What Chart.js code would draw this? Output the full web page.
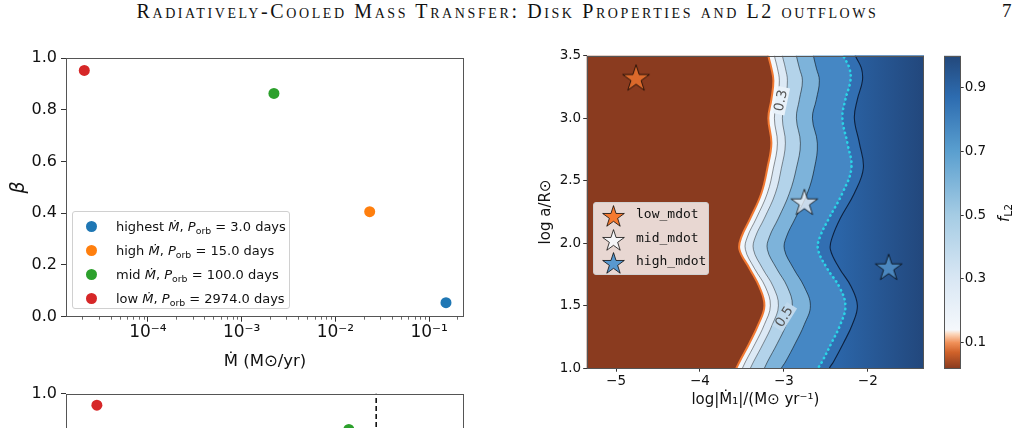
<!DOCTYPE html>
<html>
<head>
<meta charset="utf-8">
<script src="https://cdn.jsdelivr.net/npm/chart.js@4.4.1/dist/chart.umd.min.js"></script>
<style>
  html, body { margin: 0; padding: 0; background: #fff; width: 1023px; height: 428px; overflow: hidden; }
  body { position: relative; font-family: 'DejaVu Sans', sans-serif; color: #111; }
  canvas { position: absolute; }
  #header { position: absolute; left: 0; top: 0; width: 1015px; text-align: center;
    font-family: 'Liberation Serif', 'DejaVu Serif', serif; font-variant: small-caps; font-size: 20px; letter-spacing: 2.6px; }
  #pagenum { position: absolute; left: 1002px; top: 0; font-family: 'Liberation Serif', serif; font-size: 19px; }
  .legend { position: absolute; border: 1px solid #d0d0d0; border-radius: 3px; box-sizing: border-box; }
  .legend .row { position: absolute; left: 0; white-space: nowrap; }
  #legendL { left: 72px; top: 211px; width: 218px; height: 98px; background: rgba(255,255,255,0.85); font-size: 13px; }
  #legendL .dot { position: absolute; width: 11px; height: 11px; border-radius: 50%; left: 13px; top: -5.5px; }
  #legendL .txt { position: absolute; left: 43px; top: -8px; }
  #legendR { left: 593px; top: 202px; width: 116px; height: 73px; background: rgba(255,255,255,0.8);
    font-family: 'DejaVu Sans Mono', monospace; font-size: 13px; }
  #legendR img { position: absolute; left: 6px; top: -12px; }
  #legendR .txt { position: absolute; left: 42px; top: -8px; }
  sub { font-size: 0.72em; vertical-align: -0.3em; line-height: 0; }
  #cbarLabel { position: absolute; left: 986px; top: 202px; width: 40px; height: 22px; text-align: center;
    font-size: 15px; transform: rotate(-90deg); }
</style>
</head>
<body>
<div id="header">Radiatively-Cooled Mass Transfer: Disk Properties and L2 outflows</div>
<div id="pagenum">7</div>

<canvas id="betaChart" width="490" height="350" style="left:0;top:40px;width:490px;height:350px"></canvas>
<canvas id="lowerChart" width="490" height="300" style="left:0;top:380px;width:490px;height:300px"></canvas>
<canvas id="mapChart" width="430" height="380" style="left:510px;top:40px;width:430px;height:380px"></canvas>
<canvas id="cbarChart" width="88" height="380" style="left:935px;top:40px;width:88px;height:380px"></canvas>

<div id="legendL" class="legend"></div>
<div id="legendR" class="legend"></div>
<div id="cbarLabel"><i>f</i><sub>L2</sub></div>

<script>
// ---- left panel: beta vs mass transfer rate
const caseNames = ['highest', 'high', 'mid', 'low'];
const caseColors = ['#1f77b4', '#ff7f0e', '#2ca02c', '#d62728'];
const casePeriods = [3.0, 15.0, 100.0, 2974.0];
const caseMdot = [0.151, 0.0232, 0.00221, 0.0000210];
const caseBeta = [0.054, 0.406, 0.863, 0.952];
const mdotMin = 1.34e-5, mdotMax = 0.235;

// ---- lower panel (cut off by the page)
const lowerColors = ['#d62728', '#2ca02c'];
const lowerX = [0.0000286, 0.0139];
const lowerBeta = [0.955, 0.861];
const lowerCut = 0.0272;

// ---- right panel: f_L2 map
const mapXMin = -5.35, mapXMax = -1.33;
const mapYMin = 1.0, mapYMax = 3.5;
const mapXTicks = [-5, -4, -3, -2];
const contourY = [3.6, 3.5, 3.4, 3.3, 3.15, 3.0, 2.8, 2.6, 2.4, 2.2, 2.05, 1.95, 1.8, 1.65, 1.5, 1.35, 1.2, 1.05, 1.0, 0.9];
const edgeX   = [-3.208, -3.185, -3.149, -3.125, -3.149, -3.185, -3.149, -3.197, -3.268, -3.399, -3.506, -3.530, -3.411, -3.292, -3.232, -3.304, -3.411, -3.530, -3.566, -3.638];
const level3X = [-3.137, -3.113, -3.077, -3.054, -3.077, -3.113, -3.077, -3.125, -3.197, -3.328, -3.435, -3.459, -3.352, -3.220, -3.161, -3.232, -3.340, -3.459, -3.494, -3.566];
const level4X = [-3.042, -3.018, -2.982, -2.958, -2.982, -3.018, -2.982, -3.030, -3.101, -3.232, -3.340, -3.363, -3.256, -3.125, -3.065, -3.137, -3.244, -3.363, -3.399, -3.471];
const level5X = [-2.875, -2.851, -2.815, -2.779, -2.815, -2.851, -2.803, -2.851, -2.934, -3.065, -3.173, -3.197, -3.089, -2.958, -2.899, -2.970, -3.077, -3.197, -3.232, -3.304];
const level6X = [-2.672, -2.648, -2.613, -2.577, -2.613, -2.660, -2.601, -2.636, -2.720, -2.863, -2.970, -2.994, -2.887, -2.756, -2.684, -2.756, -2.863, -2.982, -3.030, -3.101];
const dottedX = [-2.339, -2.291, -2.219, -2.207, -2.267, -2.303, -2.243, -2.196, -2.303, -2.462, -2.570, -2.593, -2.486, -2.339, -2.267, -2.327, -2.434, -2.546, -2.593, -2.672];
const darkX   = [-2.196, -2.148, -2.076, -2.064, -2.124, -2.160, -2.100, -2.053, -2.160, -2.327, -2.422, -2.446, -2.339, -2.196, -2.124, -2.184, -2.291, -2.410, -2.458, -2.529];

const starLabels = ['low_mdot', 'mid_mdot', 'high_mdot'];
const starX = [-4.762, -2.756, -1.751];
const starY = [3.327, 2.332, 1.812];
const starFills = ['rgba(246,122,48,0.75)', 'rgba(246,246,248,0.75)', 'rgba(88,152,207,0.75)'];

const contourLabels = [
  { text: '0.3', x: -3.03, y: 3.14, angle: -78, bg: '#e8f1f9' },
  { text: '0.5', x: -2.99, y: 1.41, angle: -58, bg: '#c0d9ed' }
];

// colour bar
const cbarMin = 0.02, cbarMax = 1.0;
const cbarTicks = [0.1, 0.3, 0.5, 0.7, 0.9];
const cbarStops = [0.02, 0.07, 0.10, 0.128, 0.14, 0.3, 0.5, 0.7, 0.87, 1.0];
const cbarColors = ['#8a3b1f', '#d0622a', '#f09058', '#fcd9bf', '#f5f8fc', '#d9e7f4', '#a5cce4', '#5a9fcf', '#2d6cb0', '#23487b'];

Chart.defaults.font.family = "'DejaVu Sans', sans-serif";
Chart.defaults.color = '#222';

const framePlugin = {
  id: 'frame',
  afterDraw(chart) {
    const a = chart.chartArea, c = chart.ctx;
    c.save();
    c.strokeStyle = '#555';
    c.lineWidth = 1;
    c.strokeRect(Math.round(a.left) + 0.5, Math.round(a.top) + 0.5, Math.round(a.right - a.left) - 1, Math.round(a.bottom - a.top) - 1);
    c.restore();
  }
};

const minorTickPlugin = {
  id: 'minorTicks',
  afterDraw(chart) {
    const s = chart.scales.x, c = chart.ctx, b = chart.chartArea.bottom;
    c.save();
    c.strokeStyle = '#444';
    c.lineWidth = 0.8;
    s.ticks.forEach(t => {
      if (t.major) return;
      const px = Math.round(s.getPixelForValue(t.value)) + 0.5;
      c.beginPath(); c.moveTo(px, b); c.lineTo(px, b + 3); c.stroke();
    });
    c.restore();
  }
};

const supDigits = { '-': '⁻', '0': '⁰', '1': '¹', '2': '²', '3': '³', '4': '⁴', '5': '⁵', '6': '⁶', '7': '⁷', '8': '⁸', '9': '⁹' };
function powLabel(v) {
  const e = String(Math.round(Math.log10(v)));
  return '10' + e.split('').map(ch => supDigits[ch]).join('');
}
function logTicks(scale) {
  const out = [];
  for (let e = -6; e <= 0; e++) {
    for (let m = 1; m < 10; m++) {
      const v = Number(m + 'e' + e);
      if (v >= scale.min && v <= scale.max) out.push({ value: v, major: m === 1 });
    }
  }
  scale.ticks = out;
}

function betaScales(showXTitle, xHeight) {
  return {
    x: {
      type: 'logarithmic', min: mdotMin, max: mdotMax,
      afterBuildTicks: logTicks,
      afterFit: s => { s.height = xHeight; },
      border: { display: false },
      grid: { drawOnChartArea: false, tickLength: 5, tickColor: c => (c.tick && c.tick.major) ? '#333' : 'rgba(0,0,0,0)' },
      ticks: { autoSkip: false, maxRotation: 0, padding: 1, font: { size: 17 }, color: '#111',
        callback: (v, i, t) => t[i].major ? powLabel(v) : '' },
      title: { display: showXTitle, text: 'Ṁ (M⊙/yr)', font: { size: 16.5 }, color: '#111', padding: { bottom: 18 } }
    },
    y: {
      min: 0, max: 1,
      afterFit: s => { s.width = 66; },
      border: { display: false },
      grid: { drawOnChartArea: false, tickLength: 5, tickColor: '#333' },
      ticks: { stepSize: 0.2, padding: 4, font: { size: 16 }, color: '#111', callback: v => v.toFixed(1) },
      title: { display: true, text: 'β', font: { size: 19, style: 'italic' }, color: '#111', padding: { top: 8 } }
    }
  };
}

// left chart
new Chart(document.getElementById('betaChart'), {
  type: 'scatter',
  data: {
    datasets: caseNames.map((n, i) => ({
      label: n,
      data: [{ x: caseMdot[i], y: caseBeta[i] }],
      backgroundColor: caseColors[i],
      borderWidth: 0,
      pointRadius: 5.5
    }))
  },
  options: {
    responsive: false, animation: false,
    layout: { padding: { left: 0, top: 18, right: 26, bottom: 0 } },
    plugins: { legend: { display: false }, tooltip: { enabled: false } },
    scales: betaScales(true, 73.3)
  },
  plugins: [framePlugin, minorTickPlugin]
});

// lower chart (only its top is on the page)
const lowerSets = lowerX.map((x, i) => ({
  data: [{ x: x, y: lowerBeta[i] }],
  backgroundColor: lowerColors[i],
  borderWidth: 0,
  pointRadius: 5.5
}));
lowerSets.push({
  data: [{ x: lowerCut, y: 0 }, { x: lowerCut, y: 1 }],
  showLine: true, pointRadius: 0, borderColor: '#000', borderWidth: 1.5, borderDash: [5, 3]
});
new Chart(document.getElementById('lowerChart'), {
  type: 'scatter',
  data: { datasets: lowerSets },
  options: {
    responsive: false, animation: false,
    layout: { padding: { left: 0, top: 12.7, right: 26, bottom: 0 } },
    plugins: { legend: { display: false }, tooltip: { enabled: false } },
    scales: betaScales(false, 29)
  },
  plugins: [framePlugin, minorTickPlugin]
});

// legend for left chart
const legL = document.getElementById('legendL');
caseNames.forEach((n, i) => {
  const row = document.createElement('div');
  row.className = 'row';
  row.style.top = (14.7 + 24 * i) + 'px';
  row.innerHTML = `<span class="dot" style="background:${caseColors[i]}"></span>` +
    `<span class="txt">${n} <i>Ṁ</i>, <i>P</i><sub>orb</sub> = ${casePeriods[i].toFixed(1)} days</span>`;
  legL.appendChild(row);
});

// star markers
function makeStar(fill, R) {
  const s = Math.ceil(R * 2 + 4);
  const c = document.createElement('canvas');
  c.width = s; c.height = s;
  const g = c.getContext('2d');
  const r = R * 0.382;
  g.beginPath();
  for (let i = 0; i < 10; i++) {
    const rad = i % 2 ? r : R;
    const a = -Math.PI / 2 + i * Math.PI / 5;
    const px = s / 2 + rad * Math.cos(a), py = s / 2 + 1.5 + rad * Math.sin(a);
    if (i) g.lineTo(px, py); else g.moveTo(px, py);
  }
  g.closePath();
  g.fillStyle = fill; g.fill();
  g.strokeStyle = 'rgba(0,0,0,0.75)'; g.lineWidth = 1; g.stroke();
  return c;
}
const starImages = starFills.map(f => makeStar(f, 14));

const legR = document.getElementById('legendR');
starLabels.forEach((n, i) => {
  const row = document.createElement('div');
  row.className = 'row';
  row.style.top = (11 + 23.7 * i) + 'px';
  const img = new Image();
  img.src = makeStar(starFills[i].replace('0.75)', '1)'), 11.4).toDataURL();
  row.appendChild(img);
  const t = document.createElement('span');
  t.className = 'txt';
  t.textContent = n;
  row.appendChild(t);
  legR.appendChild(row);
});

// right chart
function curve(xs) { return contourY.map((y, i) => ({ x: xs[i], y: y })); }
function region(xs, side) {
  const pts = curve(xs);
  pts.push({ x: side, y: contourY[contourY.length - 1] }, { x: side, y: contourY[0] });
  return pts;
}
const right = mapXMax + 0.6, left = mapXMin - 0.6;

function rightGradient(ctx) {
  const chart = ctx.chart;
  if (!chart.chartArea) return '#27589a';
  const xs = chart.scales.x;
  const g = chart.ctx.createLinearGradient(xs.getPixelForValue(-2.35), 0, xs.getPixelForValue(mapXMax), 0);
  g.addColorStop(0, '#2b65a8');
  g.addColorStop(1, '#22477c');
  return g;
}

const bands = [
  { xs: edgeX, side: left, color: '#8a3b1f' },
  { xs: edgeX, side: right, color: '#f2f7fc' },
  { xs: level3X, side: right, color: '#dce9f5' },
  { xs: level4X, side: right, color: '#b3d3ea' },
  { xs: level5X, side: right, color: '#7db3da' },
  { xs: level6X, side: right, color: '#4587c4' },
  { xs: dottedX, side: right, color: '#326fb2' },
  { xs: darkX, side: right, color: rightGradient }
];
const mapSets = bands.map((b, i) => ({
  data: region(b.xs, b.side),
  fill: 'shape',
  backgroundColor: b.color,
  borderWidth: 0,
  pointRadius: 0,
  tension: 0.4,
  order: 20 - i
}));

const lineStyles = [
  { xs: level3X, color: 'rgba(0,0,0,0.42)', width: 1 },
  { xs: level4X, color: 'rgba(0,0,0,0.42)', width: 1 },
  { xs: level5X, color: 'rgba(0,0,0,0.5)', width: 1 },
  { xs: level6X, color: 'rgba(0,0,0,0.55)', width: 1 },
  { xs: darkX, color: 'rgba(5,15,35,0.8)', width: 1.1 }
];
lineStyles.forEach(l => mapSets.push({
  data: curve(l.xs), fill: false, borderColor: l.color, borderWidth: l.width,
  pointRadius: 0, tension: 0.4, order: 5
}));
mapSets.push({
  data: curve(dottedX), fill: false, borderColor: '#2bd3e6', borderWidth: 2.6,
  borderDash: [0.3, 4.6], borderCapStyle: 'round', pointRadius: 0, tension: 0.4, order: 5
});
mapSets.push({
  data: curve(edgeX), fill: false, borderColor: '#f27a33', borderWidth: 2,
  pointRadius: 0, tension: 0.4, order: 4
});
mapSets.push({
  data: starX.map((x, i) => ({ x: x, y: starY[i] })),
  showLine: false, pointStyle: starImages, pointRadius: 14, order: 0
});

const contourLabelPlugin = {
  id: 'contourLabels',
  afterDatasetsDraw(chart) {
    const c = chart.ctx, xs = chart.scales.x, ys = chart.scales.y;
    c.save();
    c.font = "13.5px 'DejaVu Sans'";
    c.textAlign = 'center';
    c.textBaseline = 'middle';
    contourLabels.forEach(l => {
      c.save();
      c.translate(xs.getPixelForValue(l.x), ys.getPixelForValue(l.y));
      c.rotate(l.angle * Math.PI / 180);
      const w = c.measureText(l.text).width + 6;
      c.fillStyle = l.bg;
      c.fillRect(-w / 2, -6, w, 12);
      c.fillStyle = '#555';
      c.fillText(l.text, 0, 0);
      c.restore();
    });
    c.restore();
  }
};

new Chart(document.getElementById('mapChart'), {
  type: 'line',
  data: { datasets: mapSets },
  options: {
    responsive: false, animation: false,
    layout: { padding: { left: 0, top: 15.7, right: 16, bottom: 0 } },
    plugins: { legend: { display: false }, tooltip: { enabled: false } },
    scales: {
      x: {
        type: 'linear', min: mapXMin, max: mapXMax,
        afterBuildTicks: s => { s.ticks = mapXTicks.map(v => ({ value: v })); },
        afterFit: s => { s.height = 51.8; },
        border: { display: false },
        grid: { drawOnChartArea: false, tickLength: 3.5, tickColor: '#333' },
        ticks: { padding: 2, font: { size: 13.5 }, color: '#111', callback: v => String(v).replace('-', '−') },
        title: { display: true, text: 'log|Ṁ₁|/(M⊙ yr⁻¹)', font: { size: 15 }, color: '#111', padding: { bottom: 11 } }
      },
      y: {
        type: 'linear', min: mapYMin, max: mapYMax,
        afterFit: s => { s.width = 76.7; },
        border: { display: false },
        grid: { drawOnChartArea: false, tickLength: 3.5, tickColor: '#333' },
        ticks: { stepSize: 0.5, padding: 2, font: { size: 13.5 }, color: '#111', callback: v => v.toFixed(1) },
        title: { display: true, text: 'log a/R⊙', font: { size: 15 }, color: '#111', padding: { top: 27 } }
      }
    }
  },
  plugins: [contourLabelPlugin, framePlugin]
});

// colour bar
function cbarFill(ctx) {
  const chart = ctx.chart;
  if (!chart.chartArea) return cbarColors[0];
  const ys = chart.scales.y;
  const g = chart.ctx.createLinearGradient(0, ys.getPixelForValue(cbarMin), 0, ys.getPixelForValue(cbarMax));
  cbarStops.forEach((v, i) => g.addColorStop((v - cbarMin) / (cbarMax - cbarMin), cbarColors[i]));
  return g;
}
new Chart(document.getElementById('cbarChart'), {
  type: 'bar',
  data: { labels: ['fL2'], datasets: [{ data: [[cbarMin, cbarMax]], backgroundColor: cbarFill, borderWidth: 0, barPercentage: 1, categoryPercentage: 1 }] },
  options: {
    responsive: false, animation: false,
    layout: { padding: { left: 9, top: 15.7, right: 0, bottom: 51.8 } },
    plugins: { legend: { display: false }, tooltip: { enabled: false } },
    scales: {
      x: { display: false },
      y: {
        position: 'right', min: cbarMin, max: cbarMax,
        afterBuildTicks: s => { s.ticks = cbarTicks.map(v => ({ value: v })); },
        afterFit: s => { s.width = 62.3; },
        border: { display: false },
        grid: { drawOnChartArea: false, tickLength: 3, tickColor: '#333' },
        ticks: { padding: 1, font: { size: 13.5 }, color: '#111', callback: v => v.toFixed(1) }
      }
    }
  },
  plugins: [framePlugin]
});
</script>
</body>
</html>
